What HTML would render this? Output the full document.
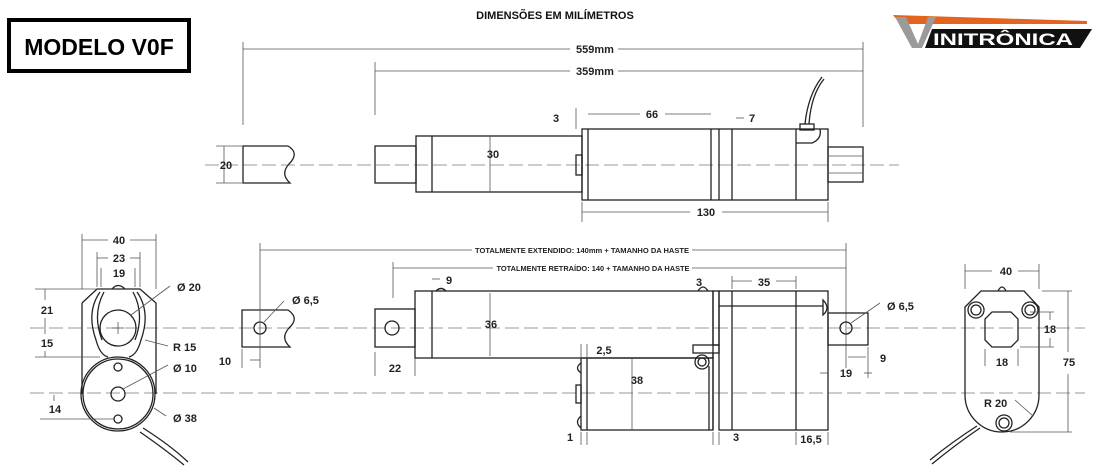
<!DOCTYPE html>
<html><head><meta charset="utf-8"><style>
html,body{margin:0;padding:0;background:#fff;}
svg{display:block;font-family:"Liberation Sans",sans-serif;}
.o{fill:none;stroke:#222;stroke-width:1.3}
.d{fill:none;stroke:#555;stroke-width:.8}
.c{fill:none;stroke:#777;stroke-width:.8;stroke-dasharray:14 5}
.t{font-size:11px;font-weight:bold;fill:#222}
.s{font-size:7.5px;font-weight:bold;fill:#222}
</style></head><body>
<svg width="1100" height="467" viewBox="0 0 1100 467">
<rect x="9" y="20" width="180" height="51" fill="#fff" stroke="#000" stroke-width="4"/>
<text x="99" y="55" text-anchor="middle" font-size="23" font-weight="bold" fill="#000">MODELO V0F</text>
<text x="555" y="19" text-anchor="middle" font-size="11" font-weight="bold" fill="#111">DIMENSÕES EM MILÍMETROS</text>
<polygon points="893,15 1087,21 1087,24 900,24" fill="#e2641f"/>
<polygon points="932,29 1092,29 1080,48 925,48" fill="#111"/>
<polygon points="895,17 906,17 918,44 928,17 936,17 922,48 912,48" fill="#9a9a9a"/>
<text x="1003" y="45" text-anchor="middle" font-size="17" font-weight="bold" fill="#fff" textLength="140" lengthAdjust="spacingAndGlyphs">INITRÔNICA</text>

<!-- TOP VIEW -->
<line class="d" x1="243" y1="49" x2="570" y2="49"/><line class="d" x1="618" y1="49" x2="863" y2="49"/>
<text class="t" x="595" y="53" text-anchor="middle">559mm</text>
<line class="d" x1="375" y1="71" x2="570" y2="71"/><line class="d" x1="618" y1="71" x2="863" y2="71"/>
<text class="t" x="595" y="75" text-anchor="middle">359mm</text>
<line class="d" x1="243" y1="42" x2="243" y2="125"/><line class="d" x1="375" y1="62" x2="375" y2="115"/><line class="d" x1="863" y1="42" x2="863" y2="127"/>
<line class="c" x1="205" y1="165" x2="899" y2="165"/>
<path class="o" d="M243,146 H288 Q300,153 289,164 Q280,174 290,183 H243 Z"/>
<line class="d" x1="224" y1="146" x2="224" y2="183"/><line class="d" x1="216" y1="146" x2="243" y2="146"/><line class="d" x1="216" y1="183" x2="243" y2="183"/>
<text class="t" x="226" y="169" text-anchor="middle">20</text>
<rect class="o" x="375" y="146" width="41" height="37"/>
<rect class="o" x="416" y="136" width="166" height="56"/>
<line class="o" x1="432" y1="136" x2="432" y2="192"/>
<line class="d" x1="490" y1="136" x2="490" y2="192"/>
<text class="t" x="493" y="158" text-anchor="middle">30</text>
<rect class="o" x="576" y="155" width="6" height="20"/>
<rect class="o" x="582" y="129" width="246" height="71"/>
<line class="o" x1="588" y1="129" x2="588" y2="200"/>
<line class="o" x1="711" y1="129" x2="711" y2="200"/>
<line class="o" x1="719" y1="129" x2="719" y2="200"/>
<line class="o" x1="732" y1="129" x2="732" y2="200"/>
<line class="o" x1="796" y1="129" x2="796" y2="200"/>
<path class="o" d="M796,143 H812 Q822,139 820,129"/>
<rect class="o" x="800" y="124" width="14" height="6"/>
<path class="o" d="M805,124 Q808,95 822,77 M809,124 Q811,95 824,79"/>
<rect class="o" x="828" y="147" width="35" height="35"/>
<line class="d" x1="828" y1="156" x2="863" y2="156"/><line class="d" x1="828" y1="173" x2="863" y2="173"/>
<text class="t" x="556" y="122" text-anchor="middle">3</text>
<line class="d" x1="576" y1="108" x2="576" y2="129"/>
<line class="d" x1="588" y1="114" x2="640" y2="114"/><line class="d" x1="665" y1="114" x2="711" y2="114"/>
<text class="t" x="652" y="118" text-anchor="middle">66</text>
<text class="t" x="752" y="122" text-anchor="middle">7</text>
<line class="d" x1="736" y1="118" x2="744" y2="118"/>
<line class="d" x1="582" y1="212" x2="690" y2="212"/><line class="d" x1="722" y1="212" x2="828" y2="212"/>
<line class="d" x1="582" y1="202" x2="582" y2="222"/><line class="d" x1="828" y1="202" x2="828" y2="222"/>
<text class="t" x="706" y="216" text-anchor="middle">130</text>

<!-- BOTTOM -->
<line class="c" x1="30" y1="328" x2="1085" y2="328"/>
<line class="c" x1="30" y1="393" x2="1085" y2="393"/>
<path class="o" d="M82,303 L97,289 H140 L156,303 V394"/>
<path class="o" d="M82,303 V394"/>
<circle class="o" cx="118" cy="394" r="37" fill="#fff"/>
<circle class="o" cx="118" cy="394" r="35"/>
<path class="o" d="M100,292 Q86,312 96,340 Q100,355 108,357 M137,292 Q151,312 141,340 Q137,355 129,357"/>
<path class="o" d="M104,292 Q92,314 102,340 M133,292 Q145,314 135,340"/>
<path class="o" d="M112,289 Q118,282 125,289"/>
<circle class="o" cx="118" cy="328" r="18"/>
<line class="d" x1="112" y1="328" x2="124" y2="328"/><line class="d" x1="118" y1="322" x2="118" y2="334"/>
<circle class="o" cx="118" cy="394" r="7"/>
<circle class="o" cx="118" cy="367" r="4"/><circle class="o" cx="118" cy="419" r="4"/>
<path class="o" d="M143,428 Q170,445 188,462 M140,432 Q166,450 184,465"/>
<line class="d" x1="82" y1="234" x2="82" y2="289"/><line class="d" x1="156" y1="234" x2="156" y2="289"/>
<line class="d" x1="82" y1="240" x2="108" y2="240"/><line class="d" x1="130" y1="240" x2="156" y2="240"/>
<text class="t" x="119" y="244" text-anchor="middle">40</text>
<line class="d" x1="97" y1="252" x2="97" y2="287"/><line class="d" x1="140" y1="252" x2="140" y2="287"/>
<line class="d" x1="97" y1="258" x2="108" y2="258"/><line class="d" x1="130" y1="258" x2="140" y2="258"/>
<text class="t" x="119" y="262" text-anchor="middle">23</text>
<line class="d" x1="101" y1="268" x2="101" y2="287"/><line class="d" x1="135" y1="268" x2="135" y2="287"/>
<text class="t" x="119" y="277" text-anchor="middle">19</text>
<line class="d" x1="35" y1="289" x2="97" y2="289"/><line class="d" x1="35" y1="357" x2="100" y2="357"/>
<line class="d" x1="45" y1="289" x2="45" y2="300"/><line class="d" x1="45" y1="318" x2="45" y2="334"/><line class="d" x1="45" y1="351" x2="45" y2="357"/>
<text class="t" x="47" y="314" text-anchor="middle">21</text>
<text class="t" x="47" y="347" text-anchor="middle">15</text>
<line class="d" x1="40" y1="419" x2="114" y2="419"/>
<line class="d" x1="54" y1="395" x2="54" y2="401"/>
<text class="t" x="55" y="413" text-anchor="middle">14</text>
<line class="d" x1="131" y1="315" x2="170" y2="286"/><text class="t" x="177" y="291">Ø 20</text>
<line class="d" x1="145" y1="340" x2="168" y2="346"/><text class="t" x="173" y="351">R 15</text>
<line class="d" x1="123" y1="389" x2="168" y2="365"/><text class="t" x="173" y="372">Ø 10</text>
<line class="d" x1="154" y1="408" x2="166" y2="416"/><text class="t" x="173" y="422">Ø 38</text>
<path class="o" d="M242,310 H288 Q300,318 289,328 Q280,338 290,347 H242 Z"/>
<circle class="o" cx="260" cy="328" r="6"/>
<line class="d" x1="264" y1="322" x2="284" y2="301"/>
<text class="t" x="292" y="304">Ø 6,5</text>
<line class="d" x1="260" y1="243" x2="260" y2="368"/><line class="d" x1="242" y1="349" x2="242" y2="368"/>
<line class="d" x1="250" y1="360" x2="260" y2="360"/>
<text class="t" x="225" y="365" text-anchor="middle">10</text>
<line class="d" x1="260" y1="250" x2="472" y2="250"/><line class="d" x1="692" y1="250" x2="846" y2="250"/>
<text class="s" x="582" y="253" text-anchor="middle" textLength="214" lengthAdjust="spacingAndGlyphs">TOTALMENTE EXTENDIDO: 140mm + TAMANHO DA HASTE</text>
<line class="d" x1="393" y1="268" x2="493" y2="268"/><line class="d" x1="692" y1="268" x2="846" y2="268"/>
<text class="s" x="593" y="271" text-anchor="middle" textLength="193" lengthAdjust="spacingAndGlyphs">TOTALMENTE RETRAÍDO: 140 + TAMANHO DA HASTE</text>
<line class="d" x1="846" y1="243" x2="846" y2="368"/>
<line class="d" x1="393" y1="262" x2="393" y2="298"/>
<rect class="o" x="375" y="309" width="40" height="38"/>
<circle class="o" cx="392" cy="328" r="7"/>
<line class="d" x1="375" y1="352" x2="375" y2="376"/><line class="d" x1="415" y1="352" x2="415" y2="376"/>
<text class="t" x="395" y="372" text-anchor="middle">22</text>
<rect class="o" x="415" y="291" width="298" height="67"/>
<line class="o" x1="432" y1="291" x2="432" y2="358"/>
<path class="o" d="M436,291 Q441,286 446,291"/>
<line class="d" x1="432" y1="279" x2="440" y2="279"/>
<text class="t" x="449" y="284" text-anchor="middle">9</text>
<line class="d" x1="490" y1="293" x2="490" y2="356"/>
<text class="t" x="491" y="328" text-anchor="middle">36</text>
<path class="o" d="M698,291 Q703,283 708,291"/>
<text class="t" x="699" y="286" text-anchor="middle">3</text>
<rect class="o" x="713" y="291" width="6" height="54" fill="#fff"/>
<rect class="o" x="719" y="291" width="109" height="139"/>
<line class="o" x1="732" y1="291" x2="732" y2="430"/>
<line class="o" x1="796" y1="291" x2="796" y2="430"/>
<line class="o" x1="719" y1="306" x2="823" y2="306"/>
<path class="o" d="M823,300 Q831,308 823,315 Z"/>
<line class="d" x1="732" y1="276" x2="732" y2="289"/><line class="d" x1="796" y1="276" x2="796" y2="289"/>
<line class="d" x1="732" y1="281" x2="752" y2="281"/><line class="d" x1="776" y1="281" x2="796" y2="281"/>
<text class="t" x="764" y="286" text-anchor="middle">35</text>
<rect class="o" x="693" y="345" width="26" height="8"/>
<circle class="o" cx="702" cy="362" r="7"/><circle class="o" cx="702" cy="362" r="4"/>
<rect class="o" x="581" y="358" width="132" height="72"/>
<line class="o" x1="587" y1="358" x2="587" y2="430"/>
<line class="o" x1="709" y1="366" x2="709" y2="430"/>
<line class="o" x1="713" y1="353" x2="713" y2="430"/>
<path class="o" d="M581,363 Q574,368 581,373"/><rect class="o" x="576" y="385" width="5" height="18"/><path class="o" d="M581,416 Q574,422 581,428"/>
<line class="d" x1="581" y1="344" x2="581" y2="358"/><line class="d" x1="587" y1="344" x2="587" y2="358"/>
<text class="t" x="604" y="354" text-anchor="middle">2,5</text>
<line class="d" x1="632" y1="358" x2="632" y2="430"/>
<text class="t" x="637" y="384" text-anchor="middle">38</text>
<line class="d" x1="581" y1="432" x2="581" y2="445"/><line class="d" x1="587" y1="432" x2="587" y2="445"/>
<text class="t" x="570" y="441" text-anchor="middle">1</text>
<line class="d" x1="713" y1="432" x2="713" y2="445"/><line class="d" x1="719" y1="432" x2="719" y2="445"/>
<text class="t" x="736" y="441" text-anchor="middle">3</text>
<line class="d" x1="796" y1="432" x2="796" y2="445"/><line class="d" x1="828" y1="432" x2="828" y2="445"/>
<text class="t" x="811" y="443" text-anchor="middle">16,5</text>
<rect class="o" x="828" y="313" width="40" height="32"/>
<circle class="o" cx="846" cy="328" r="6"/>
<line class="d" x1="851" y1="323" x2="880" y2="303"/>
<text class="t" x="887" y="310">Ø 6,5</text>
<line class="d" x1="868" y1="347" x2="868" y2="378"/>
<line class="d" x1="848" y1="357" x2="866" y2="357"/>
<text class="t" x="883" y="362" text-anchor="middle">9</text>
<line class="d" x1="820" y1="373" x2="828" y2="373"/><line class="d" x1="864" y1="373" x2="872" y2="373"/>
<text class="t" x="846" y="377" text-anchor="middle">19</text>
<path class="o" d="M965,307 L981,291 H1024 L1039,307 V395 A37,37 0 0 1 965,395 Z"/>
<path class="o" d="M998,291 Q1002,283 1006,291"/>
<g class="o">
<circle cx="976" cy="310" r="8"/><circle cx="976" cy="310" r="5"/>
<circle cx="1030" cy="310" r="8"/><circle cx="1030" cy="310" r="5"/>
<circle cx="1004" cy="423" r="8"/><circle cx="1004" cy="423" r="5"/>
</g>
<polygon class="o" points="992,312 1011,312 1018,319 1018,340 1011,347 992,347 985,340 985,319"/>
<path class="o" d="M980,428 Q955,445 932,464 M977,426 Q952,442 930,460"/>
<line class="d" x1="965" y1="264" x2="965" y2="289"/><line class="d" x1="1039" y1="264" x2="1039" y2="289"/>
<line class="d" x1="965" y1="271" x2="992" y2="271"/><line class="d" x1="1018" y1="271" x2="1039" y2="271"/>
<text class="t" x="1006" y="275" text-anchor="middle">40</text>
<line class="d" x1="1030" y1="312" x2="1054" y2="312"/><line class="d" x1="1020" y1="347" x2="1054" y2="347"/>
<line class="d" x1="1050" y1="312" x2="1050" y2="320"/><line class="d" x1="1050" y1="338" x2="1050" y2="347"/>
<text class="t" x="1050" y="333" text-anchor="middle">18</text>
<line class="d" x1="985" y1="349" x2="985" y2="366"/><line class="d" x1="1018" y1="349" x2="1018" y2="366"/>
<text class="t" x="1002" y="366" text-anchor="middle">18</text>
<line class="d" x1="1042" y1="291" x2="1072" y2="291"/><line class="d" x1="1010" y1="432" x2="1072" y2="432"/>
<line class="d" x1="1068" y1="291" x2="1068" y2="352"/><line class="d" x1="1068" y1="374" x2="1068" y2="432"/>
<text class="t" x="1069" y="366" text-anchor="middle">75</text>
<text class="t" x="984" y="407">R 20</text>
<line class="d" x1="1015" y1="400" x2="1033" y2="416"/>
</svg>
</body></html>
